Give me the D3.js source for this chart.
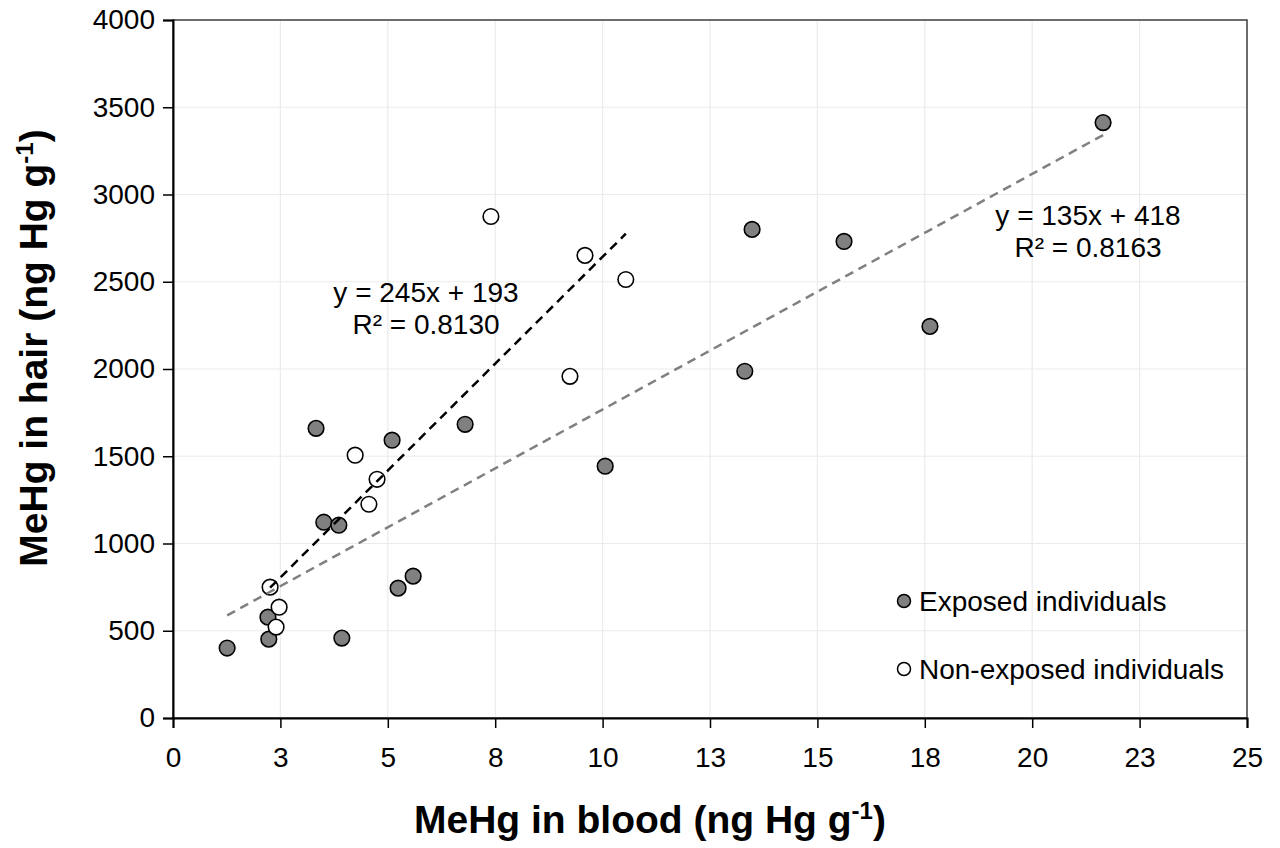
<!DOCTYPE html>
<html>
<head>
<meta charset="utf-8">
<script src="https://cdn.jsdelivr.net/npm/d3@7"></script>
<style>
  body { margin: 0; background: #fff; }
  svg { display: block; font-family: "Liberation Sans", Arial, sans-serif; }
</style>
</head>
<body>
<svg id="chart"></svg>
<script>
// MeHg in blood (x) vs MeHg in hair (y)
const exposedBlood = [1.26, 2.21, 2.23, 3.33, 3.51, 3.86, 3.93, 5.10, 5.24, 5.59, 6.80, 10.06, 13.31, 13.48, 15.62, 17.62, 21.65];
const exposedHair  = [401, 578, 452, 1660, 1122, 1105, 458, 1592, 744, 813, 1683, 1443, 1987, 2800, 2731, 2244, 3412];

const nonExposedBlood = [2.26, 2.47, 2.40, 4.24, 4.56, 4.75, 7.40, 9.24, 9.59, 10.54];
const nonExposedHair  = [750, 635, 521, 1506, 1225, 1368, 2874, 1958, 2651, 2513];

// trend lines as printed on the chart
const exposedFit = { slope: 135, intercept: 418, label: "y = 135x + 418", r2: "R² = 0.8163" };
const nonExposedFit = { slope: 245, intercept: 193, label: "y = 245x + 193", r2: "R² = 0.8130" };

const xTicks = [0, 2.5, 5, 7.5, 10, 12.5, 15, 17.5, 20, 22.5, 25];
const xTickLabels = ["0", "3", "5", "8", "10", "13", "15", "18", "20", "23", "25"];
const yTicks = [0, 500, 1000, 1500, 2000, 2500, 3000, 3500, 4000];

const seriesNames = ["Exposed individuals", "Non-exposed individuals"];

const margin = { top: 20, right: 33, bottom: 130, left: 173 };
const width = 1280 - margin.left - margin.right;
const height = 848 - margin.top - margin.bottom;

const svg = d3.select("#chart")
    .attr("width", 1280)
    .attr("height", 848);

const g = svg.append("g")
    .attr("transform", `translate(${margin.left},${margin.top})`);

// scales
const x = d3.scaleLinear().domain([0, 25]).range([0, width]);
const y = d3.scaleLinear().domain([0, 4000]).range([height, 0]);

// grid
g.append("g").selectAll("line").data(xTicks.slice(1)).join("line")
    .attr("x1", d => x(d)).attr("x2", d => x(d))
    .attr("y1", 0).attr("y2", height)
    .attr("stroke", "#ebebeb").attr("stroke-width", 1.2);
g.append("g").selectAll("line").data(yTicks.slice(1)).join("line")
    .attr("x1", 0).attr("x2", width)
    .attr("y1", d => y(d)).attr("y2", d => y(d))
    .attr("stroke", "#ebebeb").attr("stroke-width", 1.2);

// plot border
g.append("rect")
    .attr("width", width).attr("height", height)
    .attr("fill", "none").attr("stroke", "#404040").attr("stroke-width", 1.5);

// axes
const xaxis = d3.axisBottom(x).tickValues(xTicks)
    .tickFormat((d, i) => xTickLabels[i]).tickSize(10).tickPadding(19);
const g_xaxis = g.append("g").attr("transform", `translate(0,${height})`).call(xaxis);
const yaxis = d3.axisLeft(y).tickValues(yTicks).tickFormat(d3.format("d"))
    .tickSize(10).tickPadding(8);
const g_yaxis = g.append("g").call(yaxis);

[g_xaxis, g_yaxis].forEach(ax => {
    ax.select(".domain").attr("stroke", "#000").attr("stroke-width", 2);
    ax.selectAll(".tick line").attr("stroke", "#000").attr("stroke-width", 1.5);
    ax.selectAll(".tick text")
        .attr("fill", "#000")
        .style("font-size", "28px")
        .style("font-family", "'Liberation Sans', Arial, sans-serif");
});

// points
const exposed = exposedBlood.map((v, i) => ({ x: v, y: exposedHair[i] }));
const nonExposed = nonExposedBlood.map((v, i) => ({ x: v, y: nonExposedHair[i] }));

g.append("g").selectAll("circle").data(exposed).join("circle")
    .attr("cx", d => x(d.x)).attr("cy", d => y(d.y)).attr("r", 7.8)
    .attr("fill", "#808080").attr("stroke", "#000").attr("stroke-width", 1.6);
g.append("g").selectAll("circle").data(nonExposed).join("circle")
    .attr("cx", d => x(d.x)).attr("cy", d => y(d.y)).attr("r", 7.8)
    .attr("fill", "#fff").attr("stroke", "#000").attr("stroke-width", 1.6);

// trend lines, from min to max of each series
function trend(xs, fit, color) {
    const ext = d3.extent(xs);
    g.append("line")
        .attr("x1", x(ext[0])).attr("y1", y(fit.slope * ext[0] + fit.intercept))
        .attr("x2", x(ext[1])).attr("y2", y(fit.slope * ext[1] + fit.intercept))
        .attr("stroke", color).attr("stroke-width", 2.5)
        .attr("stroke-dasharray", "9,6");
}
trend(exposedBlood, exposedFit, "#808080");
trend(nonExposedBlood, nonExposedFit, "#000");

// equation labels
function eqLabel(fit, cx, cy) {
    const t = g.append("text")
        .attr("text-anchor", "middle")
        .style("font-size", "28px")
        .attr("fill", "#000");
    t.append("tspan").attr("x", cx).attr("y", cy).text(fit.label);
    t.append("tspan").attr("x", cx).attr("dy", 32).text(fit.r2);
}
eqLabel(nonExposedFit, 426 - margin.left, 302 - margin.top);
eqLabel(exposedFit, 1088 - margin.left, 225 - margin.top);

// legend
const legend = svg.append("g").attr("transform", "translate(904,601)");
seriesNames.forEach((name, i) => {
    const row = legend.append("g").attr("transform", `translate(0,${i * 68})`);
    row.append("circle").attr("r", 6.5)
        .attr("fill", i === 0 ? "#808080" : "#fff")
        .attr("stroke", "#000").attr("stroke-width", 1.5);
    row.append("text").attr("x", 15).attr("y", 10)
        .style("font-size", "28px").attr("fill", "#000")
        .text(name);
});

// axis titles
const xTitle = svg.append("text")
    .attr("x", 650).attr("y", 833)
    .attr("text-anchor", "middle")
    .style("font-size", "39px").style("font-weight", "bold");
xTitle.append("tspan").text("MeHg in blood (ng Hg g");
xTitle.append("tspan").attr("dy", -14).style("font-size", "24px").text("-1");
xTitle.append("tspan").attr("dy", 14).text(")");

const yTitle = svg.append("text")
    .attr("transform", "translate(47,348) rotate(-90)")
    .attr("text-anchor", "middle")
    .style("font-size", "39px").style("font-weight", "bold");
yTitle.append("tspan").text("MeHg in hair (ng Hg g");
yTitle.append("tspan").attr("dy", -14).style("font-size", "24px").text("-1");
yTitle.append("tspan").attr("dy", 14).text(")");
</script>
</body>
</html>
